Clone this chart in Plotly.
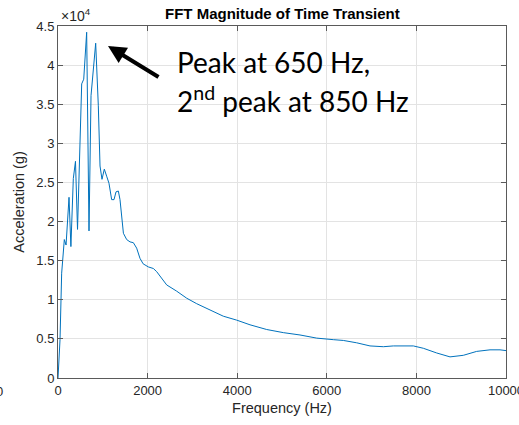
import plotly.graph_objects as go

# Frequency (Hz) and FFT magnitude (units of 1e4 g)
freq_hz = [0, 45, 82, 119, 141, 180, 246, 288, 342, 390, 436, 529, 574, 640, 692,
           737, 789, 841, 900, 938, 982, 1034, 1086, 1138, 1198, 1250, 1295, 1347,
           1384, 1421, 1460, 1533, 1607, 1682, 1756, 1830, 1900, 2016, 2128, 2202,
           2277, 2426, 2649, 2873, 3096, 3393, 3690, 3988, 4286, 4658, 5030, 5402,
           5774, 6146, 6369, 6667, 6964, 7262, 7485, 7932, 8155, 8453, 8750, 9047,
           9345, 9643, 9866, 10000]
accel_e4 = [0.0, 0.49, 1.34, 1.64, 1.77, 1.70, 2.31, 1.68, 2.55, 2.77, 1.90, 3.76, 3.82, 4.42, 1.88,
            3.61, 4.00, 4.28, 3.48, 2.71, 2.54, 2.67, 2.58, 2.49, 2.28, 2.28, 2.38, 2.39,
            2.28, 2.07, 1.85, 1.77, 1.74, 1.73, 1.66, 1.53, 1.46, 1.42, 1.40, 1.36,
            1.30, 1.19, 1.11, 1.02, 0.95, 0.87, 0.79, 0.74, 0.68, 0.62, 0.58, 0.55,
            0.51, 0.49, 0.48, 0.45, 0.41, 0.40, 0.41, 0.41, 0.38, 0.32, 0.27, 0.29,
            0.34, 0.36, 0.36, 0.35]

x_ticks = [0, 2000, 4000, 6000, 8000, 10000]
y_ticks = [0, 0.5, 1, 1.5, 2, 2.5, 3, 3.5, 4, 4.5]
y_tick_labels = ["0", "0.5", "1", "1.5", "2", "2.5", "3", "3.5", "4", "4.5"]

W, H = 519, 425
L, R, T, B = 58, 13, 26, 47

fig = go.Figure()
fig.add_trace(go.Scatter(x=freq_hz, y=accel_e4, mode="lines",
                         line=dict(color="#0072BD", width=1)))

axis_common = dict(showline=True, linecolor="#5a5a5a", linewidth=1, mirror="ticks",
                   ticks="inside", ticklen=5, tickcolor="#5a5a5a",
                   showgrid=True, gridcolor="#e3e3e3", gridwidth=1, zeroline=False,
                   ticklabeloverflow="allow", automargin=False,
                   tickfont=dict(family="Liberation Sans, Arial", size=13, color="#262626"))

fig.update_layout(
    width=W, height=H,
    margin=dict(l=L, r=R, t=T, b=B, autoexpand=False),
    paper_bgcolor="white", plot_bgcolor="white",
    showlegend=False,
    xaxis=dict(range=[0, 10000], tickvals=x_ticks, ticktext=[str(v) for v in x_ticks],
               title=dict(text="Frequency (Hz)", standoff=6,
                          font=dict(family="Liberation Sans, Arial", size=14.5, color="#262626")),
               **axis_common),
    yaxis=dict(range=[0, 4.5], tickvals=y_ticks, ticktext=y_tick_labels,
               title=dict(text="Acceleration (g)", standoff=8,
                          font=dict(family="Liberation Sans, Arial", size=14.5, color="#262626")),
               **axis_common),
)

pw = W - L - R
ph = H - T - B

def px(xp):
    return (xp - L) / pw

def py(yp):
    return (H - B - yp) / ph

annotations = [
    dict(text="<b>FFT Magnitude of Time Transient</b>", xref="paper", yref="paper",
         x=px(282), y=py(14), xanchor="center", yanchor="middle", showarrow=False,
         font=dict(family="Liberation Sans, Arial", size=15, color="black")),
    dict(text="×10<sup>4</sup>", xref="paper", yref="paper",
         x=px(59), y=py(15), xanchor="left", yanchor="middle", showarrow=False,
         font=dict(family="Liberation Sans, Arial", size=14, color="#262626")),
    dict(text="Peak at 650 Hz,", xref="paper", yref="paper",
         x=px(175), y=py(62), xanchor="left", yanchor="middle", showarrow=False,
         font=dict(family="Lato", size=28, color="black")),
    dict(text="2<sup>nd</sup> peak at 850 Hz", xref="paper", yref="paper",
         x=px(175), y=py(99), xanchor="left", yanchor="middle", showarrow=False,
         font=dict(family="Lato", size=28, color="black")),
    dict(text="", xref="paper", yref="paper", x=px(108), y=py(46),
         showarrow=True, ax=52, ay=32, arrowhead=2, arrowsize=0.9, arrowwidth=4,
         arrowcolor="black"),
    dict(text="0", xref="paper", yref="paper", x=px(-1), y=py(391),
         xanchor="center", yanchor="middle", showarrow=False,
         font=dict(family="Liberation Sans, Arial", size=13, color="#262626")),
]
fig.update_layout(annotations=annotations)

fig.write_html("out.html")
